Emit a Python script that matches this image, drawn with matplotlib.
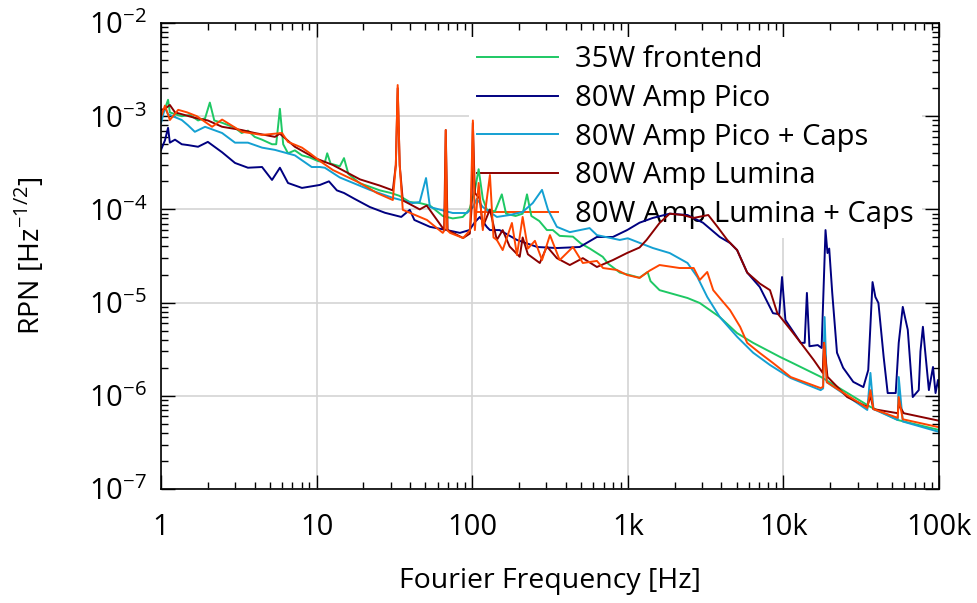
import numpy as np
import matplotlib.pyplot as plt
from matplotlib.ticker import FuncFormatter, LogLocator, LogFormatterSciNotation

plt.rcParams['font.family'] = ['Open Sans', 'DejaVu Sans']
plt.rcParams['mathtext.fontset'] = 'custom'
plt.rcParams['mathtext.rm'] = 'Open Sans'

# --- datos (frecuencia en Hz, RPN en Hz^-1/2) ---
frontend_f = [1.0, 1.06, 1.11, 1.14, 1.23, 1.36, 1.54, 1.73, 1.92, 2.06,
              2.2, 2.47, 2.99, 3.3, 3.62, 4.0, 4.46, 5.17, 5.5, 5.81,
              6.1, 6.55, 7.25, 8.05, 9.06, 10.2, 11.3, 11.7, 12.3, 14.1,
              15.0, 16.0, 19.0, 22.0, 25.5, 30.0, 34.0, 39.7, 46.0, 53.5,
              64.7, 75.0, 87.0, 96.0, 104, 110, 117, 124, 140, 155,
              165, 190, 211, 225, 240, 270, 302, 330, 365, 444,
              500, 570, 690, 750, 800, 888, 1000, 1190, 1340, 1400,
              1600, 2420, 2900, 3900, 5040, 6390, 9560, 11140, 17350, 36250,
              54320, 100000]
frontend_v = [9.6e-4, 1.2e-3, 1.5e-3, 1.1e-3, 1.05e-3, 1.0e-3, 1.03e-3, 9.0e-4, 9.5e-4, 1.4e-3,
              9.0e-4, 8.5e-4, 7.5e-4, 6.6e-4, 7.0e-4, 6.0e-4, 5.6e-4, 5.0e-4, 5.0e-4, 1.2e-3,
              5.0e-4, 4.0e-4, 4.3e-4, 3.8e-4, 3.6e-4, 3.3e-4, 3.2e-4, 4.0e-4, 3.1e-4, 2.9e-4,
              3.55e-4, 2.4e-4, 1.9e-4, 1.75e-4, 1.6e-4, 1.5e-4, 1.4e-4, 1.2e-4, 1.17e-4, 1.1e-4,
              8.5e-5, 8.0e-5, 8.3e-5, 1.0e-4, 1.6e-4, 2.7e-4, 1.3e-4, 1.0e-4, 9.5e-5, 1.45e-4,
              9.0e-5, 8.5e-5, 9.0e-5, 1.45e-4, 8.5e-5, 7.5e-5, 6.0e-5, 6.0e-5, 5.2e-5, 5.1e-5,
              4.3e-5, 3.8e-5, 3.1e-5, 2.6e-5, 2.4e-5, 2.1e-5, 2.0e-5, 1.85e-5, 2.13e-5, 1.7e-5,
              1.36e-5, 1.12e-5, 9.9e-6, 7.0e-6, 4.7e-6, 3.7e-6, 2.6e-6, 2.3e-6, 1.6e-6, 7.6e-7,
              5.5e-7, 4.3e-7]

pico_f = [1.0, 1.06, 1.11, 1.14, 1.23, 1.36, 1.49, 1.73, 2.0, 2.47,
          2.99, 3.62, 4.46, 5.17, 5.81, 6.55, 8.05, 10.5, 12.0, 13.5,
          15.0, 17.5, 22.0, 27.5, 35.0, 39.7, 42.5, 53.5, 68.6, 83.4,
          96.0, 104, 112, 124, 130, 150, 194, 262, 350, 491,
          633, 802, 990, 1190, 1450, 1860, 2420, 3040, 3900, 4540,
          5040, 5850, 7050, 8570, 9400, 9800, 10300, 12930, 13700, 14160,
          14700, 16630, 17600, 18650, 19200, 19700, 20600, 22100, 24200, 28130,
          32650, 35100, 37400, 39000, 40800, 44100, 46800, 52700, 55100, 58500,
          61000, 63000, 67800, 74100, 76000, 78800, 81000, 86100, 91500, 95000,
          98500, 100000]
pico_v = [4.35e-4, 5.5e-4, 7.5e-4, 5.2e-4, 5.6e-4, 5.0e-4, 4.9e-4, 4.7e-4, 5.3e-4, 4.1e-4,
          3.15e-4, 2.8e-4, 2.85e-4, 2.07e-4, 2.8e-4, 1.92e-4, 1.7e-4, 1.83e-4, 2.0e-4, 1.6e-4,
          1.5e-4, 1.3e-4, 1.06e-4, 9.2e-5, 8.3e-5, 9.9e-5, 7.7e-5, 6.5e-5, 6.0e-5, 5.6e-5,
          6.0e-5, 7.3e-5, 8.3e-5, 6.5e-5, 6.0e-5, 6.0e-5, 4.7e-5, 3.95e-5, 3.85e-5, 3.95e-5,
          5.06e-5, 5.06e-5, 6.0e-5, 7.2e-5, 8.1e-5, 9.0e-5, 8.7e-5, 7.2e-5, 5.06e-5, 4.36e-5,
          3.66e-5, 2.1e-5, 1.47e-5, 7.7e-6, 7.5e-6, 1.88e-5, 6.5e-6, 3.7e-6, 3.7e-6, 1.27e-5,
          3.4e-6, 3.5e-6, 3.26e-6, 6.0e-5, 3.4e-5, 3.8e-5, 1.27e-5, 2.9e-6, 2.0e-6, 1.41e-6,
          1.24e-6, 1.89e-6, 1.66e-5, 1.15e-5, 9.9e-6, 2.6e-6, 1.07e-6, 1.07e-6, 3.7e-6, 9.0e-6,
          6.5e-6, 5.1e-6, 9.7e-7, 1.15e-6, 3.0e-6, 5.5e-6, 3.34e-6, 1.15e-6, 2.04e-6, 1.07e-6,
          1.48e-6, 1.24e-6]

pico_caps_f = [1.0, 1.06, 1.11, 1.36, 1.49, 1.65, 1.92, 2.47, 2.99, 3.62,
               4.46, 5.4, 7.25, 9.3, 10.5, 11.3, 14.1, 22.0, 30.9, 41.5,
               46.0, 50.5, 53.5, 75.0, 92.5, 101, 107, 117, 144, 174,
               211, 245, 281, 307, 350, 424, 568, 633, 888, 1000,
               1450, 1860, 2420, 2800, 3240, 3900, 5040, 6390, 8200, 11140,
               17350, 18000, 18400, 19000, 34600, 36250, 37900, 54300, 55100, 58500,
               100000]
pico_caps_v = [8.45e-4, 1.23e-3, 1.05e-3, 9.1e-4, 8.0e-4, 6.8e-4, 7.7e-4, 6.6e-4, 5.2e-4, 5.2e-4,
               4.6e-4, 4.35e-4, 3.8e-4, 2.85e-4, 2.85e-4, 2.8e-4, 2.2e-4, 1.62e-4, 1.33e-4, 1.17e-4,
               1.2e-4, 2.17e-4, 1.06e-4, 9.15e-5, 9.15e-5, 1.05e-4, 1.3e-4, 1.06e-4, 8.3e-5, 8.7e-5,
               9.4e-5, 1.17e-4, 1.62e-4, 9.9e-5, 6.5e-5, 5.7e-5, 6.3e-5, 5.3e-5, 4.7e-5, 4.9e-5,
               3.85e-5, 3.4e-5, 2.66e-5, 1.88e-5, 1.15e-5, 7.0e-6, 4.3e-6, 2.9e-6, 2.14e-6, 1.55e-6,
               1.15e-6, 1.2e-6, 7.0e-6, 1.4e-6, 7.05e-7, 1.76e-6, 7.2e-7, 5.5e-7, 1.59e-6, 5.3e-7,
               4.1e-7]

lumina_f = [1.0, 1.06, 1.14, 1.23, 1.36, 1.65, 2.0, 2.47, 3.31, 4.0,
            5.4, 5.8, 7.25, 9.77, 12.7, 19.0, 25.5, 30.9, 32.3, 33.2,
            34.2, 35.8, 46.0, 51.0, 64.7, 66.0, 67.6, 69.5, 87.4, 96.5,
            99.0, 101, 104, 112, 117, 130, 144, 157, 174, 202,
            211, 228, 272, 302, 350, 424, 514, 633, 802, 987,
            1190, 1320, 1600, 1860, 2250, 2650, 3290, 3770, 4360, 5040,
            5850, 7050, 8200, 9140, 11140, 12930, 15670, 17900, 18200, 19200,
            25700, 34600, 36250, 37900, 54300, 55100, 59400, 100000]
lumina_v = [1.17e-3, 1.2e-3, 1.32e-3, 1.1e-3, 1.05e-3, 9.6e-4, 9.0e-4, 7.7e-4, 7.1e-4, 6.6e-4,
            6.0e-4, 6.5e-4, 4.7e-4, 3.55e-4, 3.0e-4, 2.1e-4, 1.8e-4, 1.6e-4, 3.0e-4, 2.0e-3,
            3.0e-4, 1.25e-4, 1.0e-4, 1.1e-4, 6.3e-5, 6.0e-5, 7.1e-4, 6.0e-5, 4.93e-5, 5.5e-5,
            1.0e-4, 8.45e-4, 1.5e-4, 1.3e-4, 6.5e-5, 1.0e-4, 4.7e-5, 6.0e-5, 4.0e-5, 3.1e-5,
            5.0e-5, 3.3e-5, 2.66e-5, 4.0e-5, 3.0e-5, 2.53e-5, 3.0e-5, 2.41e-5, 2.86e-5, 3.4e-5,
            3.9e-5, 4.7e-5, 7.15e-5, 9.0e-5, 8.7e-5, 8.1e-5, 8.7e-5, 6.5e-5, 4.7e-5, 3.66e-5,
            2.1e-5, 1.6e-5, 1.36e-5, 7.7e-6, 5.1e-6, 3.7e-6, 2.42e-6, 1.76e-6, 3.7e-6, 1.6e-6,
            9.7e-7, 7.6e-7, 1.0e-6, 7.2e-7, 6.5e-7, 8.0e-7, 6.5e-7, 5.4e-7]

lumina_caps_f = [1.0, 1.06, 1.14, 1.29, 1.47, 1.7, 2.13, 2.47, 3.31, 4.46,
                 5.99, 6.55, 8.05, 9.06, 10.8, 12.7, 19.0, 24.4, 30.9, 32.3,
                 33.2, 34.2, 35.8, 46.0, 51.2, 64.7, 66.5, 67.6, 69.0, 72.0,
                 87.4, 97.0, 101, 104, 110, 117, 130, 137, 144, 157,
                 180, 194, 211, 228, 253, 281, 316, 365, 444, 514,
                 633, 693, 850, 987, 1190, 1380, 1600, 2150, 2650, 2900,
                 3240, 3540, 3900, 4540, 5270, 5850, 7050, 8570, 11140, 17350,
                 18000, 18300, 19000, 34600, 36250, 37900, 54300, 55100, 58500, 100000]
lumina_caps_v = [9.8e-4, 1.3e-3, 9.1e-4, 1.17e-3, 1.1e-3, 1.0e-3, 7.7e-4, 9.2e-4, 6.8e-4, 6.3e-4,
                 6.6e-4, 5.3e-4, 4.6e-4, 4.0e-4, 3.2e-4, 2.65e-4, 1.92e-4, 1.5e-4, 1.26e-4, 3.0e-4,
                 2.16e-3, 3.0e-4, 9.9e-5, 8.3e-5, 7.7e-5, 5.6e-5, 6.0e-5, 7.1e-4, 6.0e-5, 5.6e-5,
                 4.93e-5, 6.0e-5, 9.0e-4, 6.0e-5, 1.92e-4, 6.0e-5, 2.34e-4, 5.0e-5, 4.7e-5, 3.66e-5,
                 7.15e-5, 3.24e-5, 8.3e-5, 3.8e-5, 4.6e-5, 2.86e-5, 5.3e-5, 2.86e-5, 3.95e-5, 2.66e-5,
                 2.8e-5, 2.35e-5, 2.24e-5, 1.98e-5, 1.84e-5, 2.2e-5, 2.53e-5, 2.35e-5, 2.35e-5, 1.75e-5,
                 2.13e-5, 1.36e-5, 1.12e-5, 8.3e-6, 5.5e-6, 3.7e-6, 2.88e-6, 2.25e-6, 1.59e-6, 1.21e-6,
                 1.25e-6, 3.7e-6, 1.4e-6, 7.4e-7, 1.15e-6, 7.2e-7, 5.8e-7, 9.7e-7, 5.6e-7, 4.6e-7]

etiquetas = ['35W frontend', '80W Amp Pico', '80W Amp Pico + Caps',
             '80W Amp Lumina', '80W Amp Lumina + Caps']
colores = ['#1ec864', '#000080', '#14a0d2', '#8b0000', '#ff4500']
series = [(frontend_f, frontend_v), (pico_f, pico_v), (pico_caps_f, pico_caps_v),
          (lumina_f, lumina_v), (lumina_caps_f, lumina_caps_v)]

fig = plt.figure(figsize=(9.77, 6.03), dpi=100)
ax = fig.add_axes([161 / 977, 1 - 489 / 603, (939 - 161) / 977, (489 - 23) / 603])

for (f, v), lab, c in zip(series, etiquetas, colores):
    ax.plot(f, v, color=c, lw=1.4, label=lab)

ax.set_xscale('log')
ax.set_yscale('log')
ax.set_xlim(1, 1e5)
ax.set_ylim(1e-7, 1e-2)

nombres_x = {1: '1', 10: '10', 100: '100', 1000: '1k', 10000: '10k', 100000: '100k'}
ax.xaxis.set_major_formatter(FuncFormatter(lambda x, p: nombres_x.get(int(round(x)), '')))
ax.yaxis.set_major_formatter(LogFormatterSciNotation())
ax.xaxis.set_minor_locator(LogLocator(base=10, subs=np.arange(2, 10), numticks=20))
ax.yaxis.set_minor_locator(LogLocator(base=10, subs=np.arange(2, 10), numticks=20))
ax.xaxis.set_minor_formatter(FuncFormatter(lambda x, p: ''))
ax.yaxis.set_minor_formatter(FuncFormatter(lambda x, p: ''))

ax.tick_params(which='both', direction='in', top=True, right=True, width=1, labelsize=21)
ax.tick_params(which='major', length=10)
ax.tick_params(which='minor', length=5)
ax.tick_params(axis='x', pad=17)
ax.tick_params(axis='y', pad=10)
for s in ax.spines.values():
    s.set_linewidth(1.2)

ax.grid(True, which='major', color='#d4d4d4', lw=1.2)
ax.set_axisbelow(True)

ax.set_xlabel('Fourier Frequency [Hz]', fontsize=20.5, labelpad=18)
ax.set_ylabel('RPN [Hz$^{-1/2}$]', fontsize=20.5, labelpad=30)

leg = ax.legend(loc='upper right', bbox_to_anchor=(0.993, 0.996), fontsize=21,
                frameon=True, facecolor='white', edgecolor='none', framealpha=1,
                fancybox=False, handlelength=2.75, handletextpad=0.58,
                labelspacing=0.33, borderpad=0.3, borderaxespad=0.4)
leg.set_zorder(1.5)

plt.savefig('out.png', dpi=100)
